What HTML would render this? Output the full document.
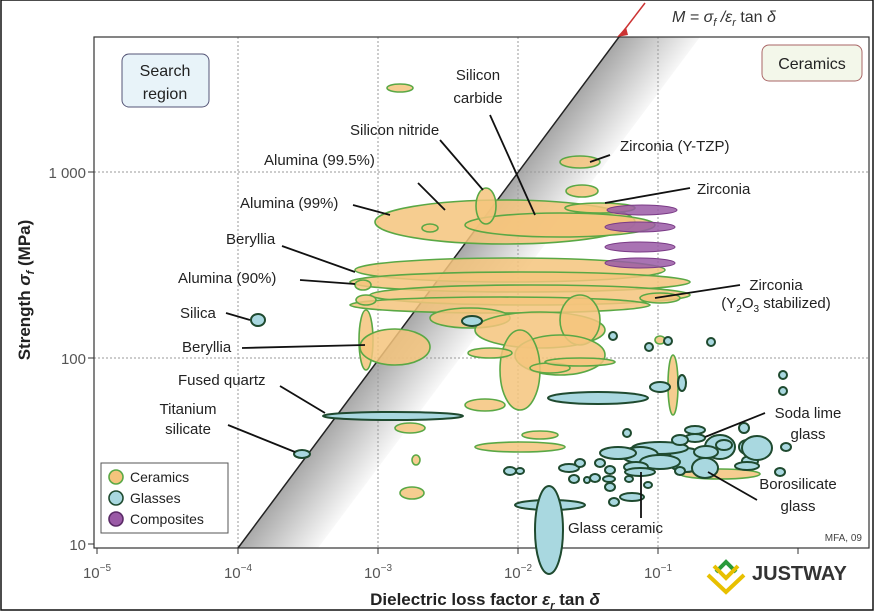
<!DOCTYPE html>
<html><head><meta charset="utf-8"><style>
html,body{margin:0;padding:0;background:#fff;}
svg{display:block;font-family:"Liberation Sans",sans-serif;}
</style></head><body>
<svg width="882" height="612" viewBox="0 0 882 612">
<defs>
<linearGradient id="sh" gradientUnits="userSpaceOnUse" x1="429" y1="292" x2="485" y2="334">
<stop offset="0" stop-color="#a8a8a8"/><stop offset="1" stop-color="#fff"/>
</linearGradient>
</defs>
<rect x="1" y="0" width="872" height="610" fill="#fff" stroke="#111" stroke-width="1.5"/>
<!-- shaded band -->
<polygon points="238,548 620,37 700,37 318,548" fill="url(#sh)"/>
<!-- grid -->
<g stroke="#999" stroke-dasharray="2,2" stroke-width="1">
<line x1="238" y1="37" x2="238" y2="548"/><line x1="378" y1="37" x2="378" y2="548"/>
<line x1="518" y1="37" x2="518" y2="548"/><line x1="658" y1="37" x2="658" y2="548"/>
<line x1="94" y1="172" x2="869" y2="172"/><line x1="94" y1="358" x2="869" y2="358"/>
</g>
<rect x="94" y="37" width="775" height="511" fill="none" stroke="#333" stroke-width="1.2"/>
<!-- diagonal line -->
<line x1="238" y1="548" x2="622" y2="33" stroke="#222" stroke-width="1.5"/>
<line x1="645" y1="3" x2="622" y2="33" stroke="#c33" stroke-width="1.5"/>
<polygon points="617,37 626,27 628,35" fill="#c33"/>
<text x="672" y="22" font-size="16" fill="#333" font-style="italic">M = σ<tspan font-size="11" dy="4">f</tspan><tspan dy="-4"> /ε</tspan><tspan font-size="11" dy="4">r</tspan><tspan dy="-4" font-style="normal"> tan </tspan>δ</text>
<!-- ticks -->
<g stroke="#333">
<line x1="238" y1="548" x2="238" y2="554"/><line x1="378" y1="548" x2="378" y2="554"/><line x1="518" y1="548" x2="518" y2="554"/><line x1="658" y1="548" x2="658" y2="554"/><line x1="798" y1="548" x2="798" y2="554"/><line x1="97" y1="548" x2="97" y2="554"/>
<line x1="88" y1="172" x2="94" y2="172"/><line x1="88" y1="358" x2="94" y2="358"/><line x1="88" y1="544" x2="94" y2="544"/>
</g>
<g font-size="15" fill="#555" text-anchor="end">
<text x="86" y="178">1 000</text><text x="86" y="364">100</text><text x="86" y="550">10</text>
</g>
<g font-size="15" fill="#555" text-anchor="middle">
<text x="97" y="578">10<tspan font-size="10" dy="-7">−5</tspan></text>
<text x="238" y="578">10<tspan font-size="10" dy="-7">−4</tspan></text>
<text x="378" y="578">10<tspan font-size="10" dy="-7">−3</tspan></text>
<text x="518" y="578">10<tspan font-size="10" dy="-7">−2</tspan></text>
<text x="658" y="578">10<tspan font-size="10" dy="-7">−1</tspan></text>
</g>
<text x="485" y="605" font-size="17" font-weight="bold" fill="#222" text-anchor="middle">Dielectric loss factor <tspan font-style="italic">ε<tspan font-size="11" dy="4">r</tspan></tspan><tspan dy="-4"> tan </tspan><tspan font-style="italic">δ</tspan></text>
<text transform="translate(30,290) rotate(-90)" font-size="17" font-weight="bold" fill="#222" text-anchor="middle">Strength <tspan font-style="italic">σ<tspan font-size="11" dy="4">f</tspan></tspan><tspan dy="-4"> (MPa)</tspan></text>
<!-- boxes -->
<rect x="122" y="54" width="87" height="53" rx="7" fill="#e8f3f9" stroke="#557"/>
<text x="165" y="76" font-size="16" fill="#222" text-anchor="middle">Search</text>
<text x="165" y="99" font-size="16" fill="#222" text-anchor="middle">region</text>
<rect x="762" y="45" width="100" height="36" rx="7" fill="#f3f7ea" stroke="#a66"/>
<text x="812" y="69" font-size="16" fill="#222" text-anchor="middle">Ceramics</text>
<!-- ceramics ellipses -->
<g fill="#f4c47c" stroke="#5aa845" stroke-width="1.6" fill-opacity="0.85">
<ellipse cx="400" cy="88" rx="13" ry="4"/>
<ellipse cx="505" cy="222" rx="130" ry="22"/>
<ellipse cx="560" cy="225" rx="95" ry="12"/>
<ellipse cx="486" cy="206" rx="10" ry="18"/>
<ellipse cx="580" cy="162" rx="20" ry="6"/>
<ellipse cx="582" cy="191" rx="16" ry="6"/>
<ellipse cx="430" cy="228" rx="8" ry="4"/>
<ellipse cx="510" cy="270" rx="155" ry="12"/>
<ellipse cx="520" cy="282" rx="170" ry="10"/>
<ellipse cx="530" cy="295" rx="160" ry="10"/>
<ellipse cx="500" cy="305" rx="150" ry="8"/>
<ellipse cx="363" cy="285" rx="8" ry="5"/>
<ellipse cx="366" cy="300" rx="10" ry="5"/>
<ellipse cx="366" cy="340" rx="7" ry="30"/>
<ellipse cx="395" cy="347" rx="35" ry="18"/>
<ellipse cx="470" cy="318" rx="40" ry="10"/>
<ellipse cx="540" cy="330" rx="65" ry="18"/>
<ellipse cx="580" cy="320" rx="20" ry="25"/>
<ellipse cx="560" cy="355" rx="45" ry="20"/>
<ellipse cx="520" cy="370" rx="20" ry="40"/>
<ellipse cx="490" cy="353" rx="22" ry="5"/>
<ellipse cx="550" cy="368" rx="20" ry="5"/>
<ellipse cx="580" cy="362" rx="35" ry="4"/>
<ellipse cx="660" cy="340" rx="5" ry="4"/>
<ellipse cx="673" cy="385" rx="5" ry="30"/>
<ellipse cx="485" cy="405" rx="20" ry="6"/>
<ellipse cx="410" cy="428" rx="15" ry="5"/>
<ellipse cx="540" cy="435" rx="18" ry="4"/>
<ellipse cx="520" cy="447" rx="45" ry="5"/>
<ellipse cx="416" cy="460" rx="4" ry="5"/>
<ellipse cx="412" cy="493" rx="12" ry="6"/>
<ellipse cx="720" cy="474" rx="40" ry="5"/>
<ellipse cx="600" cy="208" rx="35" ry="5"/>
<ellipse cx="660" cy="298" rx="20" ry="5"/>
</g>
<!-- composites -->
<g fill="#9a5aa6" stroke="#7a3a86" stroke-width="1" fill-opacity="0.85">
<ellipse cx="642" cy="210" rx="35" ry="5"/>
<ellipse cx="640" cy="227" rx="35" ry="5"/>
<ellipse cx="640" cy="247" rx="35" ry="5"/>
<ellipse cx="640" cy="263" rx="35" ry="5"/>
</g>
<!-- glasses -->
<g fill="#a9d8e0" stroke="#1f4a2f" stroke-width="2">
<ellipse cx="258" cy="320" rx="7" ry="6"/>
<ellipse cx="302" cy="454" rx="8" ry="4"/>
<ellipse cx="393" cy="416" rx="70" ry="4"/>
<ellipse cx="550" cy="505" rx="35" ry="5"/>
<ellipse cx="549" cy="530" rx="14" ry="44"/>
<ellipse cx="598" cy="398" rx="50" ry="6"/>
<ellipse cx="472" cy="321" rx="10" ry="5"/>
<ellipse cx="660" cy="387" rx="10" ry="5"/>
<ellipse cx="682" cy="383" rx="4" ry="8"/>
<ellipse cx="613" cy="336" rx="4" ry="4"/>
<ellipse cx="668" cy="341" rx="4" ry="4"/>
<ellipse cx="711" cy="342" rx="4" ry="4"/>
<ellipse cx="649" cy="347" rx="4" ry="4"/>
<ellipse cx="783" cy="375" rx="4" ry="4"/>
<ellipse cx="783" cy="391" rx="4" ry="4"/>
<ellipse cx="510" cy="471" rx="6" ry="4"/>
<ellipse cx="569" cy="468" rx="10" ry="4"/>
<ellipse cx="627" cy="433" rx="4" ry="4"/>
<ellipse cx="695" cy="438" rx="10" ry="4"/>
<ellipse cx="720" cy="447" rx="15" ry="12"/>
<ellipse cx="747" cy="447" rx="8" ry="7"/>
<ellipse cx="724" cy="445" rx="8" ry="5"/>
<ellipse cx="750" cy="461" rx="8" ry="5"/>
<ellipse cx="686" cy="460" rx="18" ry="12"/>
<ellipse cx="706" cy="452" rx="12" ry="6"/>
<ellipse cx="660" cy="448" rx="28" ry="6"/>
<ellipse cx="640" cy="455" rx="18" ry="8"/>
<ellipse cx="618" cy="453" rx="18" ry="6"/>
<ellipse cx="660" cy="462" rx="20" ry="7"/>
<ellipse cx="636" cy="467" rx="12" ry="5"/>
<ellipse cx="610" cy="470" rx="5" ry="4"/>
<ellipse cx="600" cy="463" rx="5" ry="4"/>
<ellipse cx="640" cy="472" rx="15" ry="4"/>
<ellipse cx="680" cy="440" rx="8" ry="5"/>
<ellipse cx="705" cy="468" rx="13" ry="10"/>
<ellipse cx="695" cy="430" rx="10" ry="4"/>
<ellipse cx="744" cy="428" rx="5" ry="5"/>
<ellipse cx="757" cy="448" rx="15" ry="12"/>
<ellipse cx="747" cy="466" rx="12" ry="4"/>
<ellipse cx="786" cy="447" rx="5" ry="4"/>
<ellipse cx="780" cy="472" rx="5" ry="4"/>
<ellipse cx="580" cy="463" rx="5" ry="4"/>
<ellipse cx="595" cy="478" rx="5" ry="4"/>
<ellipse cx="680" cy="471" rx="5" ry="4"/>
<ellipse cx="520" cy="471" rx="4" ry="3"/>
<ellipse cx="609" cy="479" rx="6" ry="3"/>
<ellipse cx="648" cy="485" rx="4" ry="3"/>
<ellipse cx="629" cy="479" rx="4" ry="3"/>
<ellipse cx="587" cy="480" rx="3" ry="3"/>
<ellipse cx="610" cy="487" rx="5" ry="4"/>
<ellipse cx="574" cy="479" rx="5" ry="4"/>
<ellipse cx="632" cy="497" rx="12" ry="4"/>
<ellipse cx="614" cy="502" rx="5" ry="4"/>
</g>
<!-- leader lines -->
<g stroke="#111" stroke-width="1.8" fill="none">
<line x1="490" y1="115" x2="535" y2="215"/>
<line x1="440" y1="140" x2="483" y2="190"/>
<line x1="418" y1="183" x2="445" y2="210"/>
<line x1="353" y1="205" x2="390" y2="215"/>
<line x1="282" y1="246" x2="355" y2="272"/>
<line x1="300" y1="280" x2="355" y2="284"/>
<line x1="226" y1="313" x2="250" y2="320"/>
<line x1="242" y1="348" x2="365" y2="345"/>
<line x1="280" y1="386" x2="325" y2="413"/>
<line x1="228" y1="425" x2="295" y2="452"/>
<line x1="590" y1="162" x2="610" y2="155"/>
<line x1="605" y1="203" x2="690" y2="188"/>
<line x1="655" y1="298" x2="740" y2="285"/>
<line x1="705" y1="437" x2="765" y2="413"/>
<line x1="708" y1="472" x2="757" y2="500"/>
<line x1="641" y1="472" x2="641" y2="518"/>
</g>
<!-- labels -->
<g font-size="15" fill="#222">
<text x="478" y="80" text-anchor="middle">Silicon</text>
<text x="478" y="103" text-anchor="middle">carbide</text>
<text x="350" y="135">Silicon nitride</text>
<text x="264" y="165">Alumina (99.5%)</text>
<text x="240" y="208">Alumina (99%)</text>
<text x="226" y="244">Beryllia</text>
<text x="178" y="283">Alumina (90%)</text>
<text x="180" y="318">Silica</text>
<text x="182" y="352">Beryllia</text>
<text x="178" y="385">Fused quartz</text>
<text x="188" y="414" text-anchor="middle">Titanium</text>
<text x="188" y="434" text-anchor="middle">silicate</text>
<text x="620" y="151">Zirconia (Y-TZP)</text>
<text x="697" y="194">Zirconia</text>
<text x="776" y="290" text-anchor="middle">Zirconia</text>
<text x="776" y="308" text-anchor="middle">(Y<tspan font-size="10" dy="4">2</tspan><tspan dy="-4">O</tspan><tspan font-size="10" dy="4">3</tspan><tspan dy="-4"> stabilized)</tspan></text>
<text x="808" y="418" text-anchor="middle">Soda lime</text>
<text x="808" y="439" text-anchor="middle">glass</text>
<text x="798" y="489" text-anchor="middle">Borosilicate</text>
<text x="798" y="511" text-anchor="middle">glass</text>
<text x="568" y="533">Glass ceramic</text>
</g>
<text x="862" y="541" font-size="10" fill="#444" text-anchor="end">MFA, 09</text>
<!-- legend -->
<rect x="101" y="463" width="127" height="70" fill="#fff" stroke="#555"/>
<g stroke-width="1.6">
<circle cx="116" cy="477" r="7" fill="#f4c47c" stroke="#5aa845"/>
<circle cx="116" cy="498" r="7" fill="#a9d8e0" stroke="#1f4a2f"/>
<circle cx="116" cy="519" r="7" fill="#9a5aa6" stroke="#5a2a66"/>
</g>
<g font-size="14" fill="#222">
<text x="130" y="482">Ceramics</text><text x="130" y="503">Glasses</text><text x="130" y="524">Composites</text>
</g>
<!-- logo -->
<g fill="none" stroke-width="4">
<polyline points="716,572 726,562 736,572" stroke="#2a9a3a"/>
<polyline points="708,575 726,592 744,575" stroke="#e8c000"/>
<polyline points="714,566 726,578 738,566" stroke="#e8c000"/>
</g>
<text x="752" y="580" font-size="20" font-weight="bold" fill="#333">JUSTWAY</text>
</svg>
</body></html>
